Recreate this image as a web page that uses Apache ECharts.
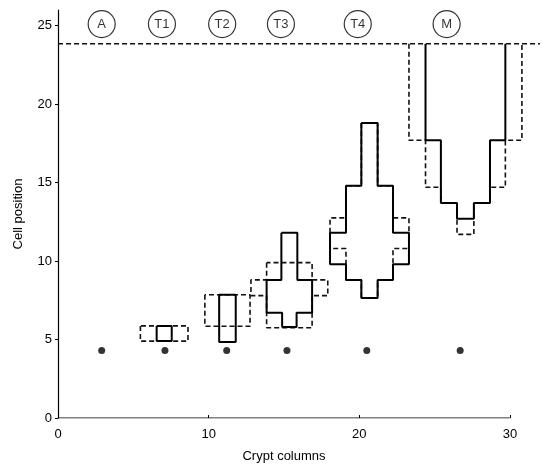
<!DOCTYPE html>
<html>
<head>
<meta charset="utf-8">
<script src="https://cdn.jsdelivr.net/npm/echarts@6/dist/echarts.min.js"></script>
<style>
  html, body { margin: 0; padding: 0; background: #fff; }
  #chart { width: 542px; height: 470px; }
</style>
</head>
<body>
<div id="chart"></div>
<script>
// stage labels shown in circles along the top
const stageNames = ['A', 'T1', 'T2', 'T3', 'T4', 'M'];
const stageLabelX = [2.9, 6.9, 10.9, 14.8, 19.9, 25.8];
const stageLabelY = 25.1;

// dots under each crypt column
const dotX = [2.9, 7.1, 11.2, 15.2, 20.5, 26.7];
const dotY = 4.3;

// step profiles: centre, row boundaries (bottom -> top), half widths per row
const profileCentre = [7.05, 11.25, 15.36, 20.68, 27.05];
const solidLevels = [
  [4.9, 5.87],
  [4.85, 7.85],
  [5.8, 6.7, 8.8, 11.8],
  [7.65, 8.8, 9.8, 11.8, 14.8, 18.8],
  [12.7, 13.7, 17.7, 23.85]
];
const solidHalf = [
  [0.5],
  [0.55],
  [0.48, 1.51, 0.53],
  [0.54, 1.56, 2.62, 1.56, 0.54],
  [0.56, 1.63, 2.65]
];
const dashedLevels = [
  [4.9, 5.87],
  [5.85, 7.85],
  [5.75, 7.8, 8.8, 9.9],
  [7.65, 8.8, 10.8, 12.75, 14.8, 18.8],
  [11.7, 13.7, 14.7, 17.7, 23.85]
];
const dashedHalf = [
  [1.58],
  [1.5],
  [1.51, 2.55, 1.51],
  [0.54, 1.56, 2.62, 1.56, 0.54],
  [0.56, 1.63, 2.65, 3.75]
];
// the last profile (M) is open at the top, it runs into the dashed line
const openTop = [false, false, false, false, true];

// dashed line across the top (runs past the end of the x axis)
const topLineY = 23.85;
const topLineX = [0, 32];

const xAxisEnd = 30;
const xTicks = [0, 10, 20, 30];
const yTicks = [0, 5, 10, 15, 20, 25];

// turn a step profile into a polyline of [x, y] points
function outline(c, levels, half, open) {
  const left = [];
  const right = [];
  for (let i = 0; i < half.length; i++) {
    left.push([c - half[i], levels[i]]);
    left.push([c - half[i], levels[i + 1]]);
    right.push([c + half[i], levels[i]]);
    right.push([c + half[i], levels[i + 1]]);
  }
  // go down the left side, across the bottom, up the right side
  const pts = left.slice().reverse().concat(right);
  if (!open) pts.push(pts[0]);
  return pts;
}

const font = '"Liberation Sans", Arial, Helvetica, sans-serif';
const series = [];

profileCentre.forEach((c, i) => {
  series.push({
    type: 'line',
    data: outline(c, dashedLevels[i], dashedHalf[i], openTop[i]),
    showSymbol: false,
    silent: true,
    lineStyle: { color: '#111', width: 1.6, type: [5, 3] },
    z: 2
  });
  series.push({
    type: 'line',
    data: outline(c, solidLevels[i], solidHalf[i], openTop[i]),
    showSymbol: false,
    silent: true,
    lineStyle: { color: '#000', width: 2 },
    z: 3
  });
});

series.push({
  type: 'line',
  data: topLineX.map(x => [x, topLineY]),
  showSymbol: false,
  silent: true,
  lineStyle: { color: '#111', width: 1.6, type: [5, 3] },
  z: 2
});

// x axis line only runs to 30 although the grid is wider
series.push({
  type: 'line',
  data: [[0, 0], [xAxisEnd, 0]],
  showSymbol: false,
  silent: true,
  lineStyle: { color: '#000', width: 1.2 },
  z: 1
});

series.push({
  type: 'scatter',
  data: dotX.map(x => [x, dotY]),
  symbolSize: 7,
  itemStyle: { color: '#000' },
  silent: true,
  z: 4
});

series.push({
  type: 'scatter',
  data: stageNames.map((n, i) => ({ name: n, value: [stageLabelX[i], stageLabelY] })),
  symbol: 'circle',
  symbolSize: 27,
  silent: true,
  itemStyle: { color: '#fff', borderColor: '#000', borderWidth: 1.2 },
  label: {
    show: true,
    position: 'inside',
    formatter: p => p.name,
    color: '#000',
    fontSize: 13,
    fontFamily: font
  },
  z: 5
});

const chart = echarts.init(document.getElementById('chart'), null, { renderer: 'canvas' });
chart.setOption({
  animation: false,
  backgroundColor: '#fff',
  grid: { left: 58, right: 2, top: 10, bottom: 52 },
  xAxis: {
    type: 'value',
    min: 0,
    max: 32,
    interval: 10,
    name: 'Crypt columns',
    nameLocation: 'start',
    nameGap: 0,
    nameTextStyle: {
      color: '#000', fontSize: 13, fontFamily: font,
      align: 'center', verticalAlign: 'top', padding: [32, 0, 0, 452]
    },
    splitLine: { show: false },
    axisLine: { show: false },
    axisTick: { inside: true, length: 3, lineStyle: { color: '#000' }, customValues: xTicks },
    axisLabel: { color: '#000', fontSize: 13, fontFamily: font, margin: 10, customValues: xTicks }
  },
  yAxis: {
    type: 'value',
    min: 0,
    max: 26,
    interval: 5,
    name: 'Cell position',
    nameLocation: 'middle',
    nameGap: 33,
    nameTextStyle: { color: '#000', fontSize: 13, fontFamily: font },
    splitLine: { show: false },
    axisLine: { lineStyle: { color: '#000', width: 1.2 } },
    axisTick: { length: 3, lineStyle: { color: '#000' }, customValues: yTicks },
    axisLabel: { color: '#000', fontSize: 13, fontFamily: font, margin: 6, customValues: yTicks }
  },
  series: series
});
</script>
</body>
</html>
